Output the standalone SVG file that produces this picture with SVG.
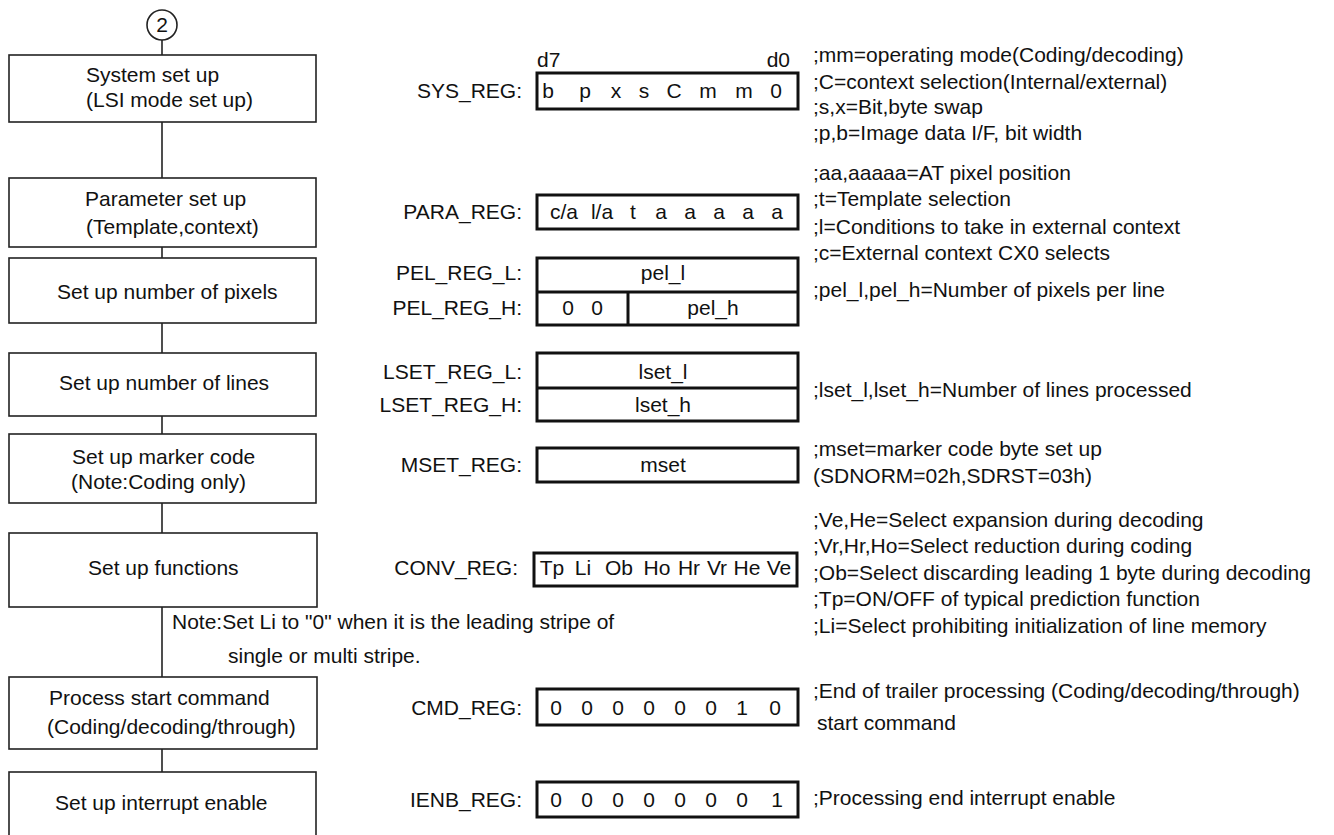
<svg xmlns="http://www.w3.org/2000/svg" width="1334" height="835" viewBox="0 0 1334 835">
<style>
text{font-family:"Liberation Sans",Arial,sans-serif;font-size:21px;fill:#111}
.box{fill:#fff;stroke:#222;stroke-width:1.6}
.reg{fill:#fff;stroke:#111;stroke-width:3}
.div{stroke:#111;stroke-width:3}
.conn{stroke:#222;stroke-width:1.6;fill:none}
.lbl{text-anchor:end}
.m{text-anchor:middle}
</style>
<rect width="1334" height="835" fill="#fff"/>
<g id="connectors">
<line class="conn" x1="162" y1="40" x2="162" y2="55"/>
<line class="conn" x1="162" y1="122" x2="162" y2="178"/>
<line class="conn" x1="162" y1="247" x2="162" y2="258"/>
<line class="conn" x1="162" y1="323" x2="162" y2="353"/>
<line class="conn" x1="162" y1="416" x2="162" y2="434"/>
<line class="conn" x1="162" y1="503" x2="162" y2="533"/>
<line class="conn" x1="162" y1="607" x2="162" y2="677"/>
<line class="conn" x1="162" y1="749" x2="162" y2="772"/>
</g>
<g id="start">
<circle cx="162" cy="25" r="15" fill="#fff" stroke="#222" stroke-width="1.6"/>
<text class="m" x="162" y="32">2</text>
</g>
<g id="n1">
<rect class="box" x="9" y="55" width="307" height="67"/>
<text x="86" y="82">System set up</text>
<text x="86" y="107">(LSI mode set  up)</text>
</g>
<g id="n2">
<rect class="box" x="9" y="178" width="307" height="69"/>
<text x="85" y="206">Parameter set up</text>
<text x="86" y="234">(Template,context)</text>
</g>
<g id="n3">
<rect class="box" x="9" y="258" width="307" height="65"/>
<text x="57" y="299">Set up number of pixels</text>
</g>
<g id="n4">
<rect class="box" x="9" y="353" width="307" height="63"/>
<text x="59" y="390">Set up number of lines</text>
</g>
<g id="n5">
<rect class="box" x="9" y="434" width="307" height="69"/>
<text x="72" y="464">Set up marker code</text>
<text x="71" y="489">(Note:Coding only)</text>
</g>
<g id="n6">
<rect class="box" x="9" y="533" width="308" height="74"/>
<text x="88" y="575">Set up functions</text>
</g>
<g id="note">
<text x="172" y="629">Note:Set Li to &quot;0&quot; when it is the leading stripe of</text>
<text x="228" y="663">single or multi stripe.</text>
</g>
<g id="n7">
<rect class="box" x="9" y="677" width="308" height="72"/>
<text x="49" y="705">Process start command</text>
<text x="47" y="734">(Coding/decoding/through)</text>
</g>
<g id="n8">
<rect class="box" x="9" y="772" width="307" height="80"/>
<text x="55" y="810">Set up interrupt enable</text>
</g>
<g id="sys_reg">
<text x="537" y="67">d7</text>
<text class="lbl" x="790" y="67">d0</text>
<text class="lbl" x="522" y="98">SYS_REG:</text>
<rect class="reg" x="537" y="73" width="261" height="36"/>
<text class="m" x="548" y="98">b</text>
<text class="m" x="585" y="98">p</text>
<text class="m" x="616" y="98">x</text>
<text class="m" x="644" y="98">s</text>
<text class="m" x="674" y="98">C</text>
<text class="m" x="708" y="98">m</text>
<text class="m" x="744" y="98">m</text>
<text class="m" x="776" y="98">0</text>
</g>
<g id="para_reg">
<text class="lbl" x="522" y="219">PARA_REG:</text>
<rect class="reg" x="537" y="195" width="261" height="34"/>
<text class="m" x="564" y="219">c/a</text>
<text class="m" x="602" y="219">l/a</text>
<text class="m" x="633" y="219">t</text>
<text class="m" x="661" y="219">a</text>
<text class="m" x="690" y="219">a</text>
<text class="m" x="719" y="219">a</text>
<text class="m" x="748" y="219">a</text>
<text class="m" x="777" y="219">a</text>
</g>
<g id="pel_reg">
<text class="lbl" x="522" y="280">PEL_REG_L:</text>
<text class="lbl" x="522" y="315">PEL_REG_H:</text>
<rect class="reg" x="537" y="258" width="261" height="67"/>
<line class="div" x1="537" y1="292" x2="798" y2="292"/>
<line class="div" x1="628" y1="292" x2="628" y2="325"/>
<text class="m" x="663" y="280">pel_l</text>
<text class="m" x="568" y="315">0</text>
<text class="m" x="597" y="315">0</text>
<text class="m" x="713" y="315">pel_h</text>
</g>
<g id="lset_reg">
<text class="lbl" x="522" y="379">LSET_REG_L:</text>
<text class="lbl" x="522" y="412">LSET_REG_H:</text>
<rect class="reg" x="537" y="353" width="261" height="68"/>
<line class="div" x1="537" y1="388" x2="798" y2="388"/>
<text class="m" x="663" y="379">lset_l</text>
<text class="m" x="663" y="412">lset_h</text>
</g>
<g id="mset_reg">
<text class="lbl" x="522" y="472">MSET_REG:</text>
<rect class="reg" x="537" y="448" width="261" height="34"/>
<text class="m" x="663" y="472">mset</text>
</g>
<g id="conv_reg">
<text class="lbl" x="518" y="575">CONV_REG:</text>
<rect class="reg" x="534" y="553" width="263" height="33"/>
<text class="m" x="552" y="575">Tp</text>
<text class="m" x="583" y="575">Li</text>
<text class="m" x="619" y="575">Ob</text>
<text class="m" x="657" y="575">Ho</text>
<text class="m" x="689" y="575">Hr</text>
<text class="m" x="717" y="575">Vr</text>
<text class="m" x="747" y="575">He</text>
<text class="m" x="779" y="575">Ve</text>
</g>
<g id="cmd_reg">
<text class="lbl" x="522" y="715">CMD_REG:</text>
<rect class="reg" x="537" y="689" width="261" height="36"/>
<text class="m" x="556" y="715">0</text>
<text class="m" x="587" y="715">0</text>
<text class="m" x="618" y="715">0</text>
<text class="m" x="649" y="715">0</text>
<text class="m" x="680" y="715">0</text>
<text class="m" x="711" y="715">0</text>
<text class="m" x="742" y="715">1</text>
<text class="m" x="775" y="715">0</text>
</g>
<g id="ienb_reg">
<text class="lbl" x="522" y="807">IENB_REG:</text>
<rect class="reg" x="537" y="782" width="261" height="35"/>
<text class="m" x="556" y="807">0</text>
<text class="m" x="587" y="807">0</text>
<text class="m" x="618" y="807">0</text>
<text class="m" x="649" y="807">0</text>
<text class="m" x="680" y="807">0</text>
<text class="m" x="711" y="807">0</text>
<text class="m" x="742" y="807">0</text>
<text class="m" x="777" y="807">1</text>
</g>
<g id="comments">
<text x="813" y="62">;mm=operating mode(Coding/decoding)</text>
<text x="813" y="89">;C=context selection(Internal/external)</text>
<text x="813" y="114">;s,x=Bit,byte swap</text>
<text x="813" y="140">;p,b=Image data I/F, bit width</text>
<text x="813" y="180">;aa,aaaaa=AT pixel position</text>
<text x="813" y="206">;t=Template selection</text>
<text x="813" y="234">;l=Conditions to take in external context</text>
<text x="813" y="260">;c=External context CX0 selects</text>
<text x="813" y="297">;pel_l,pel_h=Number of pixels per line</text>
<text x="813" y="397">;lset_l,lset_h=Number of lines processed</text>
<text x="813" y="456">;mset=marker code byte set up</text>
<text x="813" y="483">(SDNORM=02h,SDRST=03h)</text>
<text x="813" y="527">;Ve,He=Select expansion during decoding</text>
<text x="813" y="553">;Vr,Hr,Ho=Select reduction during coding</text>
<text x="813" y="580">;Ob=Select discarding leading 1 byte during decoding</text>
<text x="813" y="606">;Tp=ON/OFF of typical prediction function</text>
<text x="813" y="633">;Li=Select prohibiting initialization of line memory</text>
<text x="813" y="698">;End of trailer processing (Coding/decoding/through)</text>
<text x="817" y="730">start command</text>
<text x="813" y="805">;Processing end interrupt enable</text>
</g>
</svg>
